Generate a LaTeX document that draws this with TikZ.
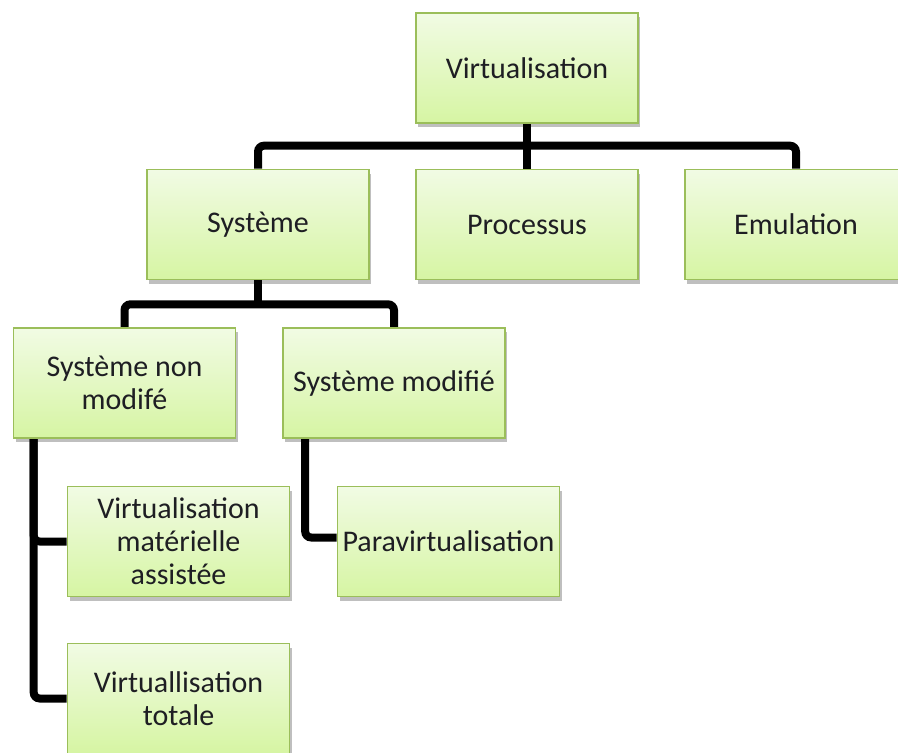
\documentclass[tikz,border=0pt]{standalone}
\usepackage{fontspec}
\setmainfont{Carlito}
\usetikzlibrary{shadows,backgrounds}
\definecolor{boxtop}{RGB}{241,251,228}
\definecolor{boxbot}{RGB}{214,245,163}
\definecolor{boxline}{RGB}{155,190,90}
\definecolor{txt}{RGB}{30,30,35}
\tikzset{
  box/.style={rectangle, draw=boxline, line width=1.6pt,
    top color=boxtop, bottom color=boxbot,
    minimum width=222pt, minimum height=110pt, inner sep=0pt,
    align=center, text=txt, font=\fontsize{30}{33}\selectfont,
    drop shadow={shadow xshift=2pt, shadow yshift=-4pt, opacity=0.25, fill=black}},
  link/.style={line width=8pt, rounded corners=6pt, line cap=butt}
}
\begin{document}
\begin{tikzpicture}[x=1pt,y=-1pt]
\useasboundingbox (0,0) rectangle (898,753);

\node[box] (top) at (527,68) {Virtualisation};
\node[box] (sys) at (258,224.5) {Système};
\node[box] (proc) at (527,224.5) {Processus};
\node[box] (emul) at (796,224.5) {Emulation};
\node[box] (sysnm) at (124.5,383) {Système non\\modifé};
\node[box] (sysm) at (394,383) {Système modifié};
\node[box] (vmat) at (178.5,541.5) {Virtualisation\\matérielle\\assistée};
\node[box] (vtot) at (178.5,698.5) {Virtuallisation\\totale};
\node[box] (para) at (448.5,541.5) {Paravirtualisation};

% connectors behind the boxes
\begin{pgfonlayer}{background}
\fill[white] (0,0) rectangle (898,753);
% level 1 -> level 2
\draw[link] (top.south) -- (proc.north);
\draw[link] (sys.north) |- ([yshift=23pt]proc.north) -| (emul.north);
% level 2 -> level 3
\draw[link] (sys.south) -- ([yshift=-24pt]sys.south);
\draw[link] (sysnm.north) |- ([yshift=-24pt]sys.south) -| (sysm.north);
% left branch
\draw[link] ([xshift=21pt]sysnm.south west) |- (vtot.west);
\draw[link] ([xshift=21pt]sysnm.south west) |- (vmat.west);
% right branch
\draw[link] ([xshift=23pt]sysm.south west) |- ([yshift=4pt]para.west);
\end{pgfonlayer}
\end{tikzpicture}
\end{document}
